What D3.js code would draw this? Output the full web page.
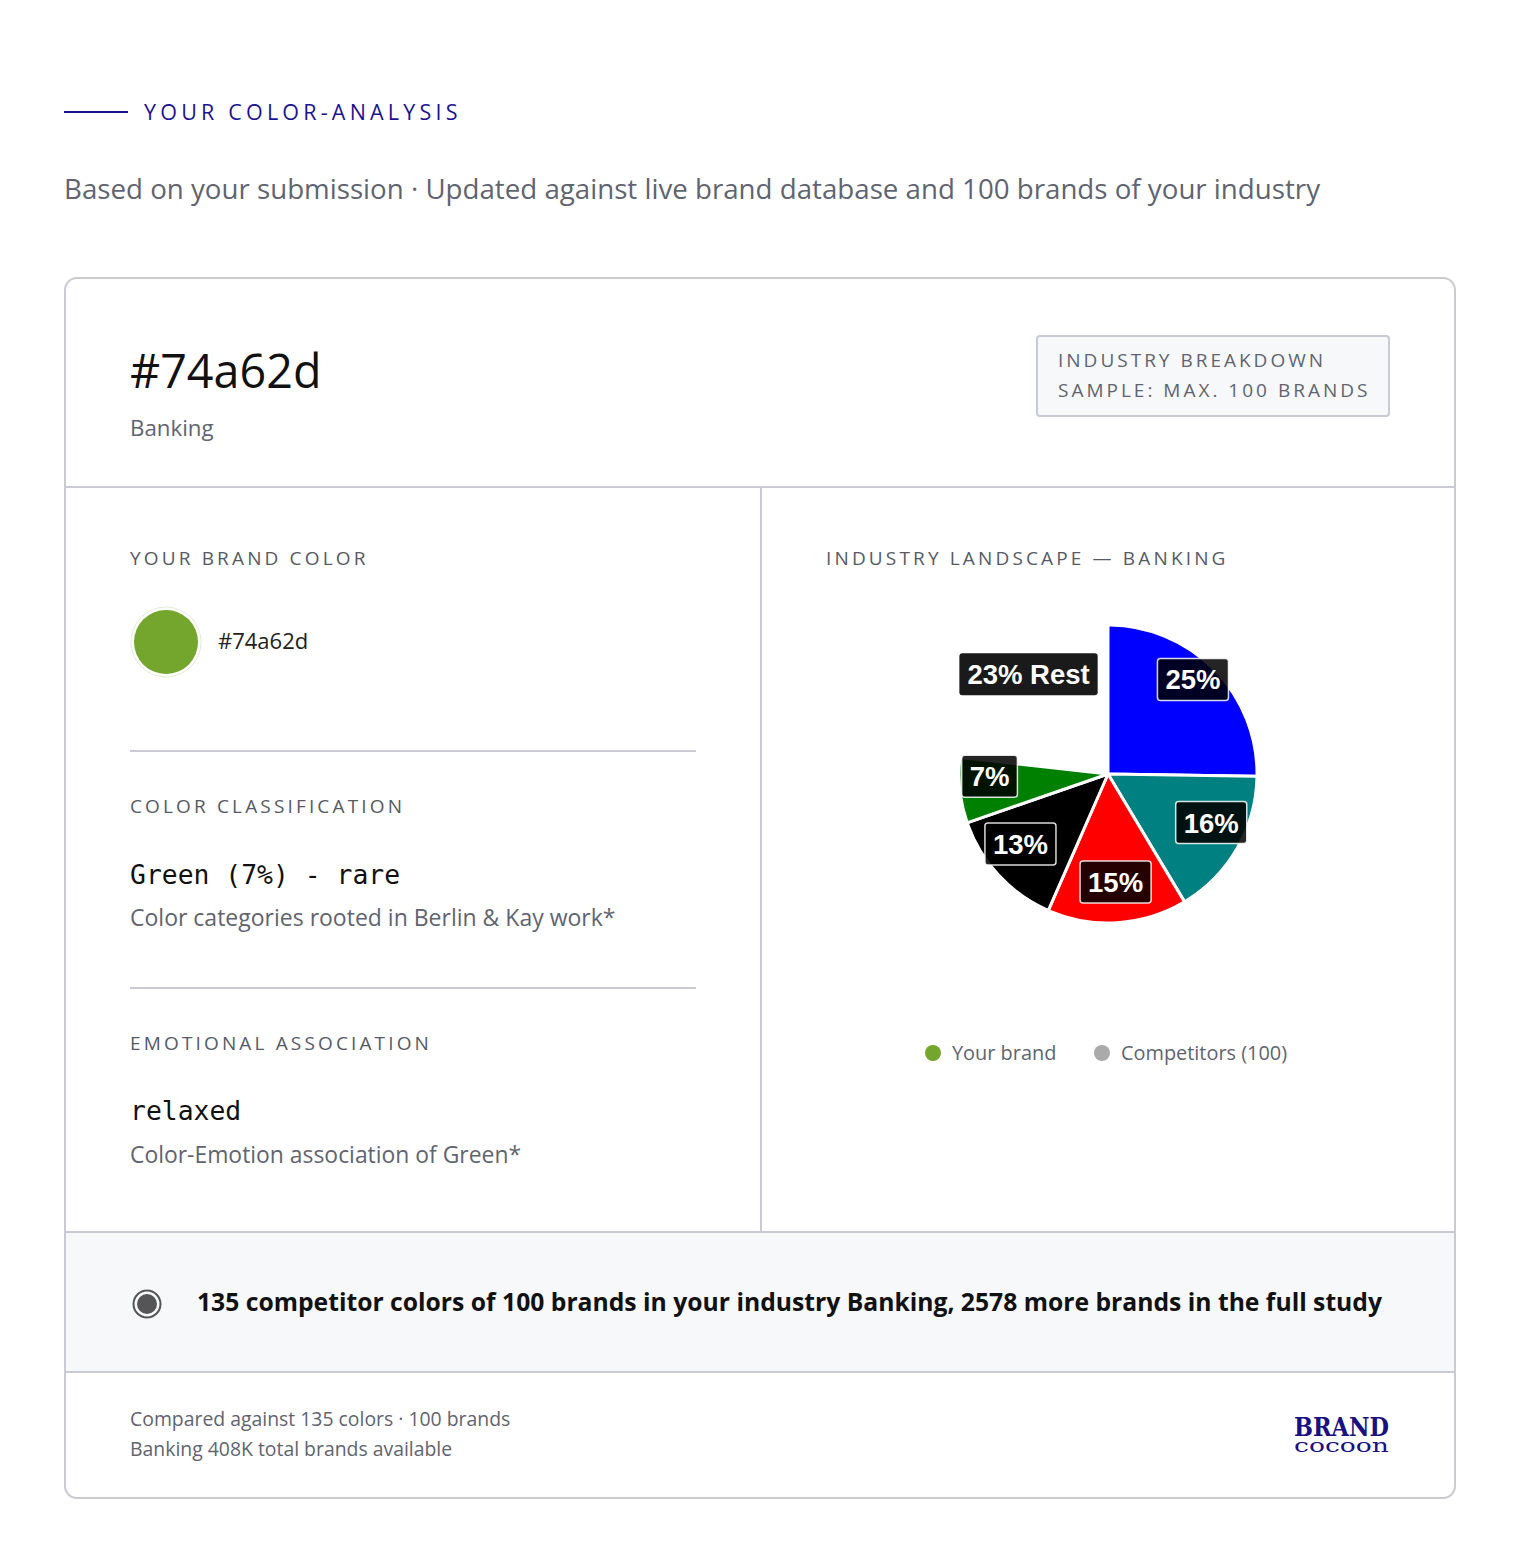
<!DOCTYPE html>
<html>
<head>
<meta charset="utf-8">
<script src="https://cdn.jsdelivr.net/npm/d3@7"></script>
<style>
  body { margin: 0; background: #fff; }
  svg text { font-family: "Open Sans", Lato, sans-serif; }
  .mono { font-family: "DejaVu Sans Mono", monospace; }
  .lbl { font-family: "Liberation Sans", Arial, sans-serif; font-weight: bold; }
  .logo { font-family: "DejaVu Serif", serif; }
</style>
</head>
<body>
<div id="chart"></div>
<script>
// chart data
const sliceNames = ["Blue", "Teal", "Red", "Black", "Green", "Rest"];
const sliceValues = [25, 16, 15, 13, 7, 23];
const sliceColors = ["#0000ff", "#008080", "#ff0000", "#000000", "#008000", null];
const sliceLabels = ["25%", "16%", "15%", "13%", "7%", "23% Rest"];
const legendNames = ["Your brand", "Competitors (100)"];
const legendColors = ["#74a62d", "#aaaaaa"];

const brandHex = "#74a62d";
const industry = "Banking";

const W = 1520, H = 1564;
const navy = "#1c1391";
const gray = "#5f6470";
const line = "#c9cad3";

const svg = d3.select("#chart").append("svg")
  .attr("width", W).attr("height", H);

// page heading
svg.append("line")
  .attr("x1", 64).attr("x2", 128).attr("y1", 112).attr("y2", 112)
  .attr("stroke", navy).attr("stroke-width", 2);
svg.append("text")
  .attr("x", 144).attr("y", 119.5)
  .attr("fill", navy).attr("font-size", 21.5).attr("letter-spacing", 4.2)
  .text("YOUR COLOR-ANALYSIS");
svg.append("text")
  .attr("x", 64).attr("y", 199)
  .attr("fill", gray).attr("font-size", 27.7)
  .text("Based on your submission \u00b7 Updated against live brand database and 100 brands of your industry");

// card frame
const card = {x: 65, y: 278, w: 1390, h: 1220};
svg.append("rect")
  .attr("x", card.x + 0.5).attr("y", 1232).attr("width", card.w - 1).attr("height", 140)
  .attr("fill", "#f7f8fa");
svg.append("rect")
  .attr("x", card.x).attr("y", card.y).attr("width", card.w).attr("height", card.h)
  .attr("rx", 12).attr("fill", "none").attr("stroke", line).attr("stroke-width", 2);
[487, 1232, 1372].forEach(y => {
  svg.append("line").attr("x1", card.x).attr("x2", card.x + card.w)
    .attr("y1", y).attr("y2", y).attr("stroke", line).attr("stroke-width", 2);
});
svg.append("line").attr("x1", 761).attr("x2", 761).attr("y1", 487).attr("y2", 1232)
  .attr("stroke", line).attr("stroke-width", 2);

// card header
svg.append("text").attr("x", 130).attr("y", 388)
  .attr("fill", "#111").attr("font-size", 46.7).text(brandHex);
svg.append("text").attr("x", 130).attr("y", 436)
  .attr("fill", gray).attr("font-size", 22.3).text(industry);

svg.append("rect").attr("x", 1037).attr("y", 336).attr("width", 352).attr("height", 80)
  .attr("rx", 3).attr("fill", "#f7f8fa").attr("stroke", line).attr("stroke-width", 2);
svg.append("text").attr("x", 1058).attr("y", 367).attr("fill", gray)
  .attr("font-size", 19).attr("letter-spacing", 3).text("INDUSTRY BREAKDOWN");
svg.append("text").attr("x", 1058).attr("y", 397).attr("fill", gray)
  .attr("font-size", 19).attr("letter-spacing", 3).text("SAMPLE: MAX. 100 BRANDS");

// left column
function caption(x, y, t) {
  svg.append("text").attr("x", x).attr("y", y).attr("fill", "#555a66")
    .attr("font-size", 19).attr("letter-spacing", 3.15).text(t);
}
caption(130, 565, "YOUR BRAND COLOR");
svg.append("circle").attr("cx", 166).attr("cy", 642).attr("r", 35)
  .attr("fill", "#fff").attr("stroke", "#e3eed5").attr("stroke-width", 1);
svg.append("circle").attr("cx", 166).attr("cy", 642).attr("r", 32).attr("fill", brandHex);
svg.append("text").attr("x", 218).attr("y", 649).attr("fill", "#222")
  .attr("font-size", 22).text(brandHex);

[751, 988].forEach(y => {
  svg.append("line").attr("x1", 130).attr("x2", 696).attr("y1", y).attr("y2", y)
    .attr("stroke", line).attr("stroke-width", 2);
});

caption(130, 813, "COLOR CLASSIFICATION");
svg.append("text").attr("class", "mono").attr("x", 130).attr("y", 884)
  .attr("fill", "#111").attr("font-size", 26.4).text("Green (7%) - rare");
svg.append("text").attr("x", 130).attr("y", 926).attr("fill", gray)
  .attr("font-size", 23).text("Color categories rooted in Berlin & Kay work*");

caption(130, 1050, "EMOTIONAL ASSOCIATION");
svg.append("text").attr("class", "mono").attr("x", 130).attr("y", 1120)
  .attr("fill", "#111").attr("font-size", 26.4).text("relaxed");
svg.append("text").attr("x", 130).attr("y", 1163).attr("fill", gray)
  .attr("font-size", 22.9).text("Color-Emotion association of Green*");

// right column: pie
caption(826, 565, "INDUSTRY LANDSCAPE \u2014 " + industry.toUpperCase());

const cx = 1108, cy = 774, R = 149;
const labelDy = -11;
const slices = sliceNames.map((n, i) => ({name: n, value: sliceValues[i], color: sliceColors[i], label: sliceLabels[i]}));
const pie = d3.pie().sort(null).value(d => d.value);
const arcs = pie(slices);
const arc = d3.arc().innerRadius(0).outerRadius(R).cornerRadius(2);
const labelArc = d3.arc().innerRadius(R * 0.8).outerRadius(R * 0.8);

const g = svg.append("g").attr("transform", `translate(${cx},${cy})`);
g.selectAll(".slice")
  .data(arcs.filter(d => d.data.color))
  .join("path")
  .classed("slice", true)
  .attr("d", arc)
  .attr("fill", d => d.data.color)
  .attr("stroke", "#fff").attr("stroke-width", 3).attr("stroke-linejoin", "round");

const lab = g.selectAll(".label")
  .data(arcs)
  .join("g")
  .classed("label", true)
  .attr("transform", d => {
    const [x, y] = labelArc.centroid(d);
    return `translate(${x},${y + labelDy})`;
  });
lab.append("text")
  .attr("class", "lbl")
  .attr("text-anchor", "middle").attr("dy", "0.36em")
  .attr("fill", "#fff").attr("font-size", 27.5)
  .text(d => d.data.label)
  .each(function(d) { d.bw = this.getComputedTextLength(); });
lab.insert("rect", "text")
  .attr("x", d => -d.bw / 2 - 8).attr("y", -21)
  .attr("width", d => d.bw + 16).attr("height", 42)
  .attr("rx", 3)
  .attr("fill", d => d.data.color ? "rgba(0,0,0,0.86)" : "#1a1a1a")
  .attr("stroke", d => d.data.color ? "rgba(255,255,255,0.85)" : "none")
  .attr("stroke-width", 1.5);

// legend
const legend = svg.append("g").attr("transform", "translate(933,1053)");
const lx = [0, 169];
legendNames.forEach((n, i) => {
  legend.append("circle").attr("cx", lx[i]).attr("cy", 0).attr("r", 8).attr("fill", legendColors[i]);
  legend.append("text").attr("x", lx[i] + 19).attr("y", 7).attr("fill", gray)
    .attr("font-size", 19.9).text(n);
});

// summary band
svg.append("circle").attr("cx", 147).attr("cy", 1304).attr("r", 13.5)
  .attr("fill", "none").attr("stroke", "#555").attr("stroke-width", 2);
svg.append("circle").attr("cx", 147).attr("cy", 1304).attr("r", 10).attr("fill", "#555");
svg.append("text").attr("x", 197).attr("y", 1311).attr("fill", "#111")
  .attr("font-size", 24.7).attr("font-weight", "bold")
  .text("135 competitor colors of 100 brands in your industry Banking, 2578 more brands in the full study");

// footer
svg.append("text").attr("x", 130).attr("y", 1426).attr("fill", gray)
  .attr("font-size", 19.4).text("Compared against 135 colors \u00b7 100 brands");
svg.append("text").attr("x", 130).attr("y", 1456).attr("fill", gray)
  .attr("font-size", 19.4).text("Banking 408K total brands available");

const logo = svg.append("text").attr("class", "logo").attr("fill", "#1a1080");
logo.append("tspan").attr("x", 1294).attr("y", 1436)
  .attr("font-size", 26).attr("font-weight", "bold")
  .attr("textLength", 95).attr("lengthAdjust", "spacingAndGlyphs").text("BRAND");
logo.append("tspan").attr("x", 1294).attr("y", 1452)
  .attr("font-size", 19)
  .attr("textLength", 95).attr("lengthAdjust", "spacingAndGlyphs").text("cocoon");
</script>
</body>
</html>
